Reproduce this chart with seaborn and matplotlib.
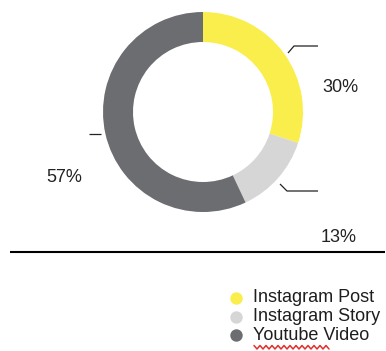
import numpy as np
import matplotlib
matplotlib.use("Agg")
import matplotlib.pyplot as plt
import seaborn as sns

# Share of content by channel
categories = ["Instagram Post", "Instagram Story", "Youtube Video"]
shares = [30, 13, 57]
colors = ["#FAEE4C", "#D6D6D6", "#6C6D71"]

sns.set_theme(style="white")
plt.rcParams["font.family"] = ["Liberation Sans", "DejaVu Sans"]

W, H = 386, 351
fig = plt.figure(figsize=(W / 100, H / 100), dpi=100)
ax = fig.add_axes([0, 0, 1, 1])


def Y(y_px):
    """Pixel row (from top) to data y (from bottom)."""
    return H - y_px


# Donut
ax.pie(shares, colors=colors, startangle=90, counterclock=False,
       center=(203, Y(112)), radius=100,
       wedgeprops=dict(width=30, linewidth=0))

ax.set_xlim(0, W)
ax.set_ylim(0, H)
ax.set_aspect("equal")
ax.axis("off")

# Leader lines and value labels
leader_kw = dict(color="#222222", lw=0.9, solid_capstyle="butt")
ax.plot([288, 294, 318], [Y(53), Y(46), Y(46)], **leader_kw)
ax.plot([280, 287, 318], [Y(184), Y(191), Y(191)], **leader_kw)
ax.plot([89, 101], [Y(134), Y(134)], **leader_kw)

label_pos = [(340, 88), (339, 238), (64, 178)]
for val, (lx, ly) in zip(shares, label_pos):
    ax.text(lx, Y(ly), f"{val}%", ha="center", va="center",
            fontsize=13, color="#222222")

# Divider
ax.plot([10, 385], [Y(252), Y(252)], color="black", lw=1.5,
        solid_capstyle="butt")

# Legend
for i, (cat, col) in enumerate(zip(categories, colors)):
    ry = Y(298 + i * 18.5)
    ax.scatter([236], [ry], s=80, color=col, linewidths=0, zorder=3)
    ax.text(253, ry, cat, ha="left", va="center", fontsize=13,
            color="#1E1E1E")

# Wavy underline beneath "Youtube"
zx = np.arange(254, 331, 3.0)
zy = np.where(np.arange(len(zx)) % 2 == 0, Y(345.5), Y(349))
ax.plot(zx, zy, color="#E0302A", lw=1.1)

fig.savefig("out.png", dpi=100)
